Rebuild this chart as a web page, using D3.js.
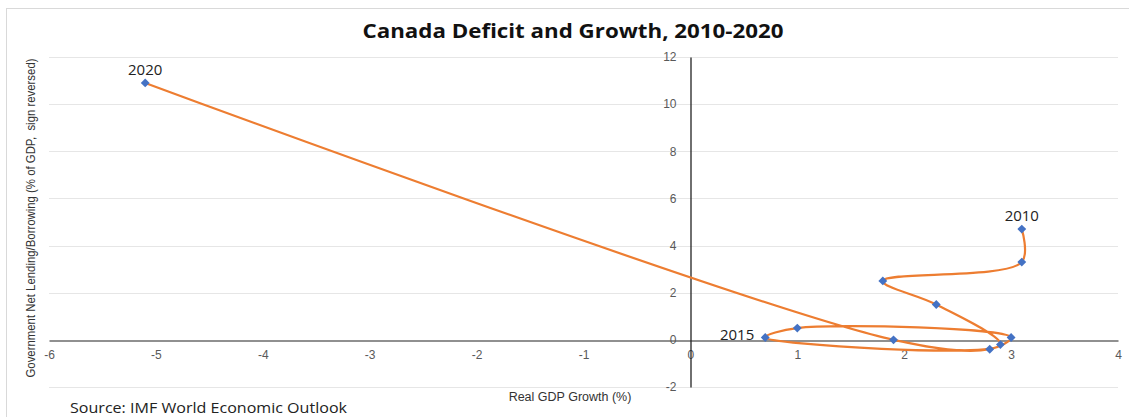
<!DOCTYPE html>
<html>
<head>
<meta charset="utf-8">
<script src="https://cdn.jsdelivr.net/npm/d3@7"></script>
<style>
  html, body { margin: 0; padding: 0; background: #fff; }
  svg { display: block; }
</style>
</head>
<body>
<svg id="chart" width="1129" height="417"></svg>
<script>
// Canada: real GDP growth vs. general government net lending/borrowing (sign reversed)
const years = [2010, 2011, 2012, 2013, 2014, 2015, 2016, 2017, 2018, 2019, 2020];
const gdpGrowth = [3.1, 3.1, 1.8, 2.3, 2.9, 0.7, 1.0, 3.0, 2.8, 1.9, -5.1];
const deficit = [4.7, 3.3, 2.5, 1.5, -0.2, 0.1, 0.5, 0.1, -0.4, 0.0, 10.9];
const labelledYears = [2010, 2015, 2020];
const xTicks = [-6, -5, -4, -3, -2, -1, 0, 1, 2, 3, 4];
const yTicks = [-2, 0, 2, 4, 6, 8, 10, 12];

const svg = d3.select("#chart");
const W = 1129, H = 417;
const plotLeft = 49, plotRight = 1118, plotTop = 57, plotBottom = 387;

// chart frame
svg.append("rect")
  .attr("x", 6.5).attr("y", 8.5).attr("width", W - 5).attr("height", H)
  .attr("fill", "#fff").attr("stroke", "#d9d9d9").attr("stroke-width", 1);

const x = d3.scaleLinear().domain([-6, 4]).range([plotLeft, plotRight]);
const y = d3.scaleLinear().domain([-2, 12]).range([plotBottom, plotTop]);

const font = "'Liberation Sans', Arial, sans-serif";
const fontWide = "'Open Sans', 'Liberation Sans', sans-serif";
const plainNum = d => String(d);

// horizontal gridlines
svg.append("g").selectAll("line")
  .data(yTicks.filter(d => d !== 0))
  .join("line")
  .attr("x1", plotLeft).attr("x2", plotRight)
  .attr("y1", d => Math.round(y(d)) + 0.5).attr("y2", d => Math.round(y(d)) + 0.5)
  .attr("stroke", "#e6e6e6").attr("stroke-width", 1.2);

// x axis along y = 0
const xAxis = svg.append("g")
  .attr("transform", `translate(0,${Math.round(y(0)) + 0.5})`)
  .call(d3.axisBottom(x).tickValues(xTicks).tickSize(0).tickPadding(10).tickFormat(plainNum));
xAxis.select(".domain").attr("stroke", "#6b6b6b").attr("stroke-width", 1.3);
xAxis.selectAll("text")
  .attr("font-family", font).attr("font-size", 12).attr("fill", "#595959");

// y axis along x = 0
const yAxis = svg.append("g")
  .attr("transform", `translate(${Math.round(x(0)) + 0.5},0)`)
  .call(d3.axisLeft(y).tickValues(yTicks).tickSize(0).tickPadding(14).tickFormat(plainNum));
yAxis.select(".domain").attr("stroke", "#222").attr("stroke-width", 1.3);
yAxis.selectAll("text")
  .attr("font-family", font).attr("font-size", 12).attr("fill", "#595959");

// smoothed connecting line
const pts = years.map((yr, i) => ({ year: yr, gx: gdpGrowth[i], dv: deficit[i] }));
const line = d3.line()
  .x(d => x(d.gx)).y(d => y(d.dv))
  .curve(d3.curveCatmullRom.alpha(0.5));
svg.append("path")
  .datum(pts)
  .attr("d", line)
  .attr("fill", "none")
  .attr("stroke", "#ed7d31")
  .attr("stroke-width", 2.2)
  .attr("stroke-linejoin", "round");

// diamond markers
svg.append("g").selectAll("path")
  .data(pts)
  .join("path")
  .attr("transform", d => `translate(${x(d.gx)},${y(d.dv)})`)
  .attr("d", d3.symbol(d3.symbolDiamond2, 50))
  .attr("fill", "#4472c4");

// year labels
const lab = pts.filter(d => labelledYears.includes(d.year));
svg.append("g").selectAll("text")
  .data(lab)
  .join("text")
  .attr("x", d => d.year === 2015 ? x(d.gx) - 11 : x(d.gx))
  .attr("y", d => d.year === 2015 ? y(d.dv) + 2 : y(d.dv) - 8)
  .attr("text-anchor", d => d.year === 2015 ? "end" : "middle")
  .attr("font-family", fontWide)
  .attr("font-size", 15)
  .attr("fill", "#222")
  .text(d => d.year);

// title
svg.append("text")
  .attr("x", 573).attr("y", 38)
  .attr("text-anchor", "middle")
  .attr("font-family", fontWide)
  .attr("font-weight", 700)
  .attr("font-size", 20)
  .attr("textLength", 421)
  .attr("lengthAdjust", "spacingAndGlyphs")
  .attr("fill", "#111")
  .text("Canada Deficit and Growth, 2010-2020");

// axis titles
svg.append("text")
  .attr("x", 570).attr("y", 401)
  .attr("text-anchor", "middle")
  .attr("font-family", font).attr("font-size", 12.5).attr("fill", "#333")
  .text("Real GDP Growth (%)");

svg.append("text")
  .attr("transform", "translate(35,218) rotate(-90)")
  .attr("text-anchor", "middle")
  .attr("font-family", font).attr("font-size", 12.5).attr("fill", "#333")
  .attr("textLength", 319)
  .attr("lengthAdjust", "spacingAndGlyphs")
  .style("white-space", "pre")
  .text("Government Net Lending/Borrowing (% of GDP,  sign reversed)");

// source note
svg.append("text")
  .attr("x", 70).attr("y", 413)
  .attr("font-family", fontWide)
  .attr("font-size", 15).attr("fill", "#222")
  .attr("textLength", 277)
  .attr("lengthAdjust", "spacingAndGlyphs")
  .text("Source: IMF World Economic Outlook");
</script>
</body>
</html>
